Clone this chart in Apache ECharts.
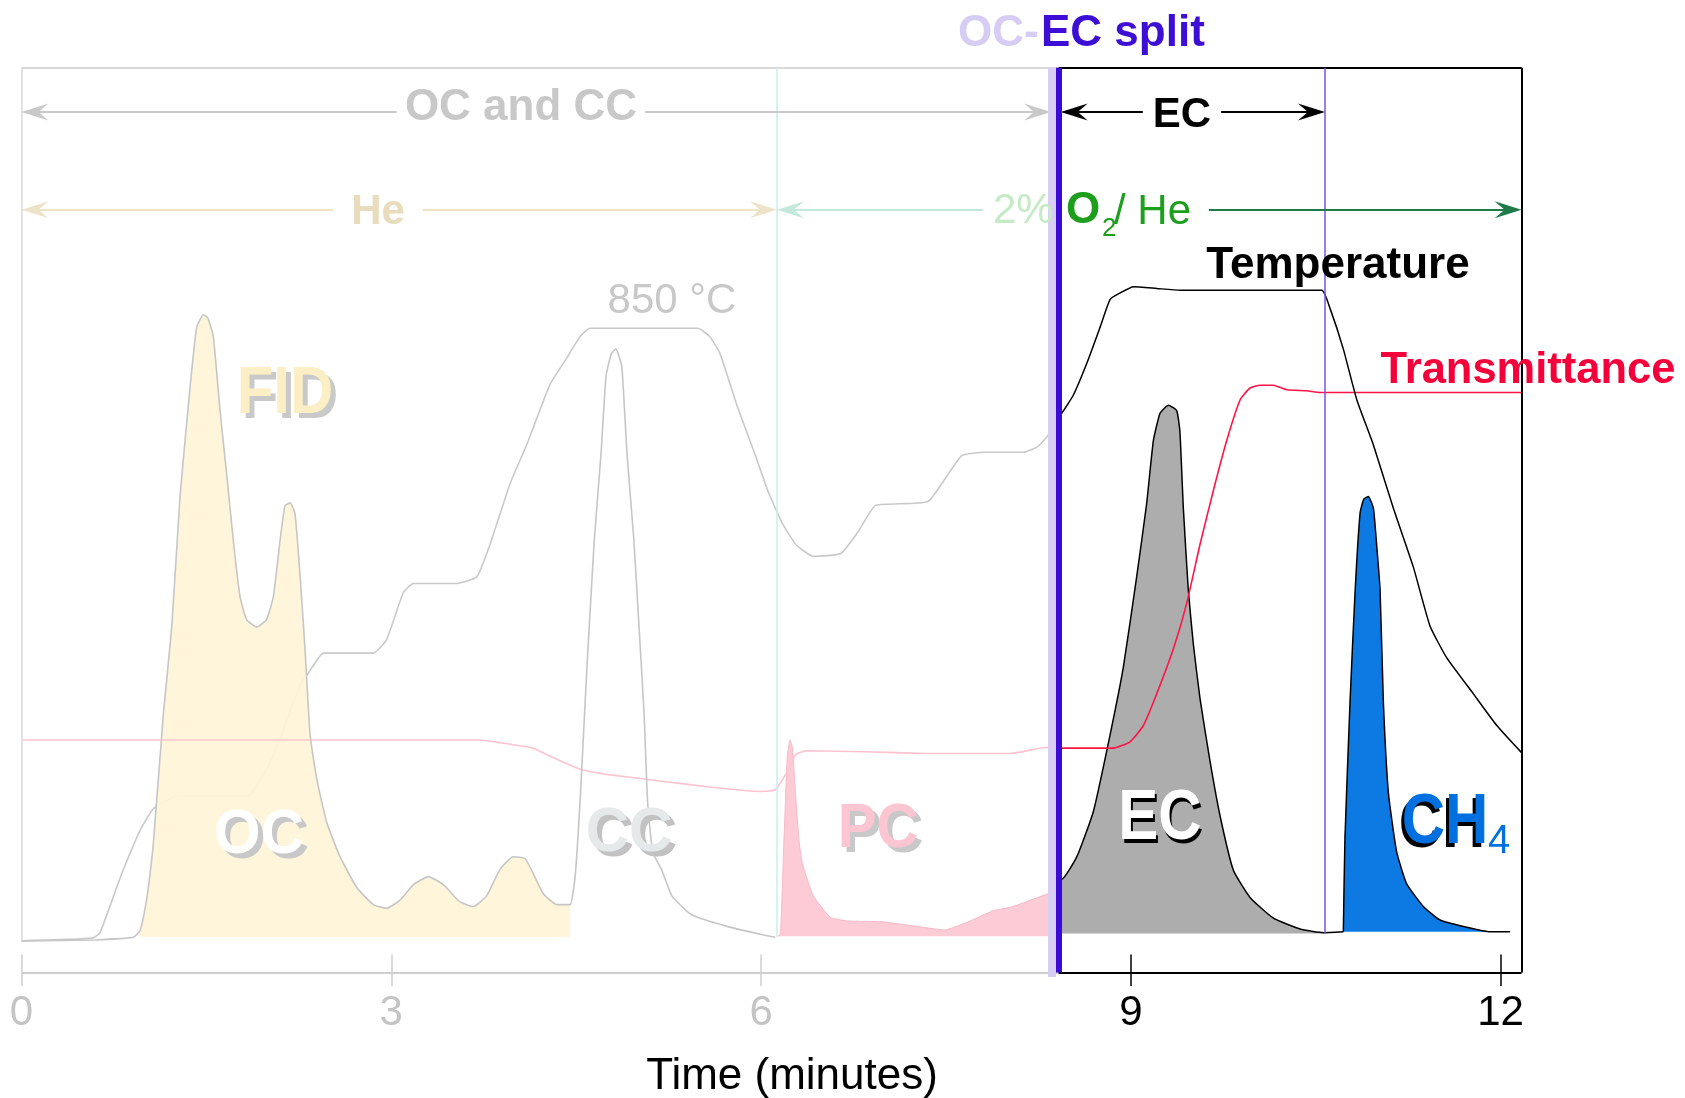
<!DOCTYPE html>
<html>
<head>
<meta charset="utf-8">
<title>OC-EC thermogram</title>
<script src="https://cdn.jsdelivr.net/npm/echarts@6/dist/echarts.min.js"></script>
<style>
  html, body { margin: 0; padding: 0; background: #fff; }
  #chart { width: 1685px; height: 1098px; }
</style>
</head>
<body>
<div id="chart"></div>
<script>
// x = time (minutes), y = relative signal (arbitrary units, 0-100)
const tickLabels = [0, 3, 6, 9, 12];

// event times
const GAS_SWITCH_T = 6.129;  // He -> 2% O2/He
const SPLIT_T = 8.413;       // OC-EC split
const EC_END_T = 10.575;
const RUN_END_T = 12.17;

// FID signal, OC and CC part (grey outline)
const fidTime = [0, 0.60, 0.907, 0.960, 0.995, 1.029, 1.070, 1.151, 1.219, 1.286, 1.367, 1.421, 1.475, 1.513,
  1.556, 1.610, 1.665, 1.718, 1.772, 1.826, 1.908, 1.988, 2.044, 2.098, 2.138, 2.180, 2.219, 2.260, 2.300,
  2.341, 2.395, 2.476, 2.584, 2.720, 2.854, 2.962, 3.071, 3.180, 3.301, 3.423, 3.557, 3.666, 3.775, 3.882,
  3.990, 4.085, 4.153, 4.234, 4.342, 4.450, 4.490, 4.532, 4.586, 4.647, 4.702, 4.743, 4.786, 4.822, 4.870,
  4.912, 4.968, 5.010, 5.051, 5.079, 5.121, 5.192, 5.275, 5.414, 5.527, 5.723, 6.003, 6.115];
const fidSignal = [3.5, 3.6, 3.9, 4.6, 6.5, 9.4, 14.3, 28.6, 38.2, 52.6, 64.6, 71.3, 72.7, 72.3,
  70.3, 62.2, 55.0, 47.8, 41.6, 39.0, 38.2, 39.0, 41.6, 47.8, 51.6, 51.9, 50.7, 43.9, 35.8,
  26.3, 21.4, 16.6, 12.8, 9.4, 7.5, 7.1, 8.0, 9.7, 10.6, 9.7, 7.8, 7.3, 8.5, 11.4,
  12.8, 12.6, 10.9, 8.7, 7.5, 7.5, 10.4, 19.0, 33.4, 47.8, 57.4, 66.0, 68.4, 68.9, 67.0,
  57.4, 47.8, 38.2, 28.6, 19.0, 13.3, 11.4, 8.5, 6.6, 5.9, 5.1, 4.2, 3.9];
const ocFillRange = [0.96, 4.45];

// pyrolysed carbon
const pcTime = [6.129, 6.157, 6.185, 6.213, 6.235, 6.255, 6.283, 6.310, 6.338, 6.423, 6.562, 6.703, 6.983,
  7.262, 7.486, 7.681, 7.877, 8.045, 8.325, 8.352];
const pcSignal = [4.0, 4.2, 14.3, 23.9, 25.7, 24.8, 19.0, 14.3, 11.9, 8.5, 6.1, 5.7, 5.6,
  5.1, 4.7, 5.6, 6.8, 7.3, 8.7, 8.9];

// elemental carbon
const ecTime = [8.413, 8.439, 8.562, 8.696, 8.832, 8.940, 9.048, 9.128, 9.183, 9.237, 9.304, 9.372, 9.398,
  9.426, 9.466, 9.507, 9.561, 9.643, 9.724, 9.832, 9.967, 10.157, 10.373, 10.562, 10.724];
const ecSignal = [10.3, 10.3, 12.8, 17.8, 26.3, 33.8, 43.8, 51.8, 58.8, 61.8, 62.7, 62.1, 59.8,
  51.3, 42.3, 36.3, 30.3, 23.3, 17.3, 11.3, 8.3, 6.0, 4.8, 4.4, 4.5];

// methane calibration peak
const chTime = [10.724, 10.737, 10.778, 10.820, 10.860, 10.889, 10.927, 10.968, 10.994, 11.022, 11.049,
  11.090, 11.157, 11.238, 11.373, 11.508, 11.725, 11.915, 12.077];
const chSignal = [4.5, 14.8, 29.8, 42.3, 50.8, 52.3, 52.6, 51.3, 47.3, 42.3, 29.8,
  19.8, 13.3, 9.8, 7.3, 5.8, 5.0, 4.5, 4.5];

// oven temperature
const tempTimeOC = [0, 0.575, 0.637, 0.799, 0.962, 1.070, 1.264, 1.831, 2.040, 2.267, 2.328, 2.450, 2.854,
  2.962, 3.098, 3.180, 3.531, 3.693, 3.801, 3.963, 4.098, 4.288, 4.423, 4.532, 4.612, 5.486, 5.583, 5.667,
  5.806, 5.947, 6.059, 6.171, 6.282, 6.423, 6.646, 6.786, 6.926, 7.122, 7.360, 7.626, 7.820, 8.129, 8.241,
  8.325, 8.370];
const tempOC = [3.5, 3.8, 4.4, 10.4, 15.7, 18.1, 19.5, 19.5, 23.9, 32.0, 33.1, 35.3, 35.3,
  36.8, 42.0, 43.0, 43.0, 43.7, 47.3, 54.0, 58.3, 65.0, 67.9, 70.3, 71.2, 71.2, 70.3, 68.4,
  62.6, 57.4, 53.1, 49.7, 47.3, 46.0, 46.3, 48.7, 51.6, 51.8, 52.1, 57.1, 57.5, 57.5, 58.1,
  59.3, 60.2];
const tempTimeEC = [8.413, 8.439, 8.533, 8.642, 8.750, 8.832, 8.913, 9.021, 9.210, 9.398, 9.887, 10.549,
  10.616, 10.724, 10.833, 10.968, 11.130, 11.292, 11.427, 11.562, 11.779, 11.969, 12.17];
const tempEC = [61.6, 61.8, 63.8, 67.3, 71.3, 74.4, 75.1, 75.8, 75.6, 75.4, 75.4, 75.4,
  73.4, 68.9, 63.3, 58.3, 51.3, 44.8, 38.3, 34.8, 30.8, 27.3, 24.3];

// laser transmittance
const transTimeOC = [0, 3.720, 3.880, 4.150, 4.211, 4.368, 4.548, 4.743, 5.161, 5.583, 6.003, 6.115, 6.199,
  6.282, 6.367, 6.842, 7.402, 8.017, 8.325, 8.370];
const transOC = [25.7, 25.7, 25.4, 24.8, 24.4, 23.4, 22.4, 21.9, 21.2, 20.5, 20.0, 20.2, 21.9,
  24.1, 24.5, 24.4, 24.2, 24.2, 24.9, 24.9];
const transTimeEC = [8.413, 8.858, 8.994, 9.102, 9.210, 9.346, 9.453, 9.561, 9.670, 9.778, 9.887, 9.967,
  10.048, 10.157, 10.264, 10.427, 10.535, 12.17];
const transEC = [24.8, 24.8, 25.5, 27.3, 30.8, 35.8, 40.8, 47.3, 53.3, 58.8, 63.3, 64.6,
  64.9, 64.9, 64.4, 64.3, 64.1, 64.1];

const FONT = '"Liberation Sans", Arial, Helvetica, sans-serif';
const pairs = (ts, vs) => ts.map((t, i) => [t, vs[i]]);
const fidData = pairs(fidTime, fidSignal);
const ocData = fidData.filter(p => p[0] >= ocFillRange[0] && p[0] <= ocFillRange[1]);

function line(name, data, color, width, z, extra) {
  return Object.assign({
    name, type: 'line', data, z, silent: true,
    symbol: 'none', showSymbol: false, smooth: 0.15,
    lineStyle: { color, width }
  }, extra || {});
}
function area(name, data, fill, base, lineColor, lineWidth, z, opacity) {
  return line(name, data, lineColor, lineWidth, z, {
    areaStyle: { color: fill, opacity: opacity || 0.95, origin: base }
  });
}

// helper lines: frame, ticks, event markers, arrows
const head = 'path://M8.5,0L17,27L8.5,17L0,27Z';
const HEAD_SIZE = [17, 27];
const HEAD_INSET = 13.5 / 123.26; // half a head, in minutes
const seg = (a, b, color, width) => [
  { coord: a, lineStyle: { color, width, type: 'solid' } },
  { coord: b }
];
const arrow = (t1, t2, v, color, h1, h2) => [
  {
    coord: [h1 ? t1 + HEAD_INSET : t1, v], symbol: h1 ? head : 'none', symbolSize: HEAD_SIZE,
    lineStyle: { color, width: 2, type: 'solid' }
  },
  { coord: [h2 ? t2 - HEAD_INSET : t2, v], symbol: h2 ? head : 'none', symbolSize: HEAD_SIZE }
];
const guideLines = [
  seg([0, 100], [SPLIT_T, 100], '#d9d9d9', 2),
  seg([SPLIT_T, 100], [RUN_END_T, 100], '#000', 2),
  seg([0, 100], [0, 3.5], '#d9d9d9', 1.5),
  seg([RUN_END_T, 100], [RUN_END_T, 0], '#000', 2),
  seg([0, 0], [SPLIT_T, 0], '#cfcfcf', 2),
  seg([SPLIT_T, 0], [RUN_END_T, 0], '#000', 2),
  ...tickLabels.map(t => seg([t, 2.0], [t, -1.5], t < SPLIT_T ? '#cfcfcf' : '#000', 1.5)),
  seg([GAS_SWITCH_T, 100], [GAS_SWITCH_T, 4], '#c9eff0', 1.5),
  seg([EC_END_T, 100], [EC_END_T, 4.3], '#7a52e6', 1.5),
  arrow(0, 8.352, 95.1, '#c9c9c9', true, true),
  arrow(8.431, EC_END_T, 95.1, '#000', true, true),
  arrow(0, GAS_SWITCH_T, 84.3, '#ece3c8', true, true),
  arrow(GAS_SWITCH_T, 7.803, 84.3, '#c4e8da', true, false),
  arrow(9.634, RUN_END_T, 84.3, '#1f7a4a', false, true),
  seg([8.357, 100], [8.357, -0.5], '#d7cdf5', 8),
  seg([SPLIT_T, 100], [SPLIT_T, 0], '#3b0bd5', 6)
];

function txt(text, x, y, size, color, opts) {
  opts = opts || {};
  return {
    type: 'text', x, y, z: opts.z || 20, scaleY: opts.scaleY || 1, silent: true,
    style: Object.assign({
      text, fill: color,
      font: (opts.weight || 'bold') + ' ' + size + 'px ' + FONT,
      textAlign: opts.align || 'center', textVerticalAlign: 'middle'
    }, opts.style || {})
  };
}
function shadowed(text, x, y, size, front, back, dx, dy, scaleY) {
  return [
    txt(text, x + dx, y + dy, size, back, { scaleY, z: 20 }),
    txt(text, x, y, size, front, { scaleY, z: 21 })
  ];
}

const chart = echarts.init(document.getElementById('chart'));
const option = {
  animation: false,
  backgroundColor: '#fff',
  grid: { left: 21.5, right: 147.4, top: 31.5, bottom: 107.4 },
  xAxis: {
    type: 'value', min: 0, max: 12.3, interval: 3,
    axisLine: { show: false }, axisTick: { show: false }, splitLine: { show: false },
    axisLabel: {
      customValues: tickLabels,
      margin: 2,
      fontFamily: FONT, fontSize: 42,
      color: v => (v < SPLIT_T ? '#c4c4c4' : '#000'),
      formatter: v => (tickLabels.includes(v) ? String(v) : '')
    }
  },
  yAxis: { type: 'value', min: -2, max: 104, show: false, splitLine: { show: false } },
  series: [
    line('Temperature (OC)', pairs(tempTimeOC, tempOC), '#c9c9c9', 1.6, 1),
    area('OC', ocData, '#fef4d8', 3.93, '#fef4d8', 0, 2, 0.93),
    area('PC', pairs(pcTime, pcSignal), '#fcc8d4', 4.0, '#f7bac8', 1, 2),
    area('EC', pairs(ecTime, ecSignal), '#a9a9a9', 4.3, '#000', 1.5, 2),
    area('CH4', pairs(chTime, chSignal), '#0073e3', 4.5, '#000', 1.5, 2),
    line('Transmittance (OC)', pairs(transTimeOC, transOC), '#ffc3cf', 1.6, 3),
    line('Transmittance (EC)', pairs(transTimeEC, transEC), '#ff1446', 1.6, 3),
    line('FID', fidData, '#c6c6c6', 1.6, 4),
    line('Temperature (EC)', pairs(tempTimeEC, tempEC), '#000', 1.5, 3),
    {
      name: 'guides', type: 'line', data: [], z: 5, silent: true, clip: false,
      markLine: {
        silent: true, animation: false, symbol: 'none',
        label: { show: false }, emphasis: { disabled: true },
        data: guideLines
      }
    }
  ],
  graphic: [
    txt('OC-', 958, 34, 44, '#d6ccf4', { align: 'left' }),
    txt('EC split', 1041, 34, 44, '#3d0fd6', { align: 'left' }),
    txt('OC and CC', 521, 108, 44, '#c8c8c8', { style: { backgroundColor: '#fff', padding: [2, 8] } }),
    txt('EC', 1182, 115, 42, '#000', { style: { backgroundColor: '#fff', padding: [2, 10] } }),
    txt('He', 378, 212, 42, '#e8dcbc', { style: { backgroundColor: '#fff', padding: [2, 18] } }),
    txt('2%', 993, 211, 42, '#c6eac6', { align: 'left', weight: 'normal' }),
    txt('O', 1066, 211, 44, '#1d9e1d', { align: 'left' }),
    txt('2', 1102, 229, 26, '#1d9e1d', { align: 'left', weight: 'normal' }),
    txt('/ He', 1114, 212, 42, '#1d9e1d', { align: 'left', weight: 'normal' }),
    txt('850 °C', 672, 301, 42, '#c8c8c8', { weight: 'normal' }),
    txt('Temperature', 1338, 266, 44, '#000'),
    txt('Transmittance', 1528, 371, 43.5, '#f5003a'),
    ...shadowed('FID', 285, 395, 60, '#fcefc6', '#c9c9c9', 5, 5, 1.1),
    ...shadowed('OC', 259, 836, 60, '#ffffff', '#c8c8c8', 5, 5, 1.05),
    ...shadowed('CC', 629, 834, 60, '#e6e9ea', '#c2c2c2', 5, 5, 1.05),
    ...shadowed('PC', 878, 829, 58, '#fbc6d2', '#c8c8c8', 5, 5, 1.1),
    ...shadowed('EC', 1160, 820, 60, '#ffffff', '#000000', 2, 4, 1.17),
    ...shadowed('CH', 1445, 824, 60, '#0070e0', '#000000', -3, 4, 1.17),
    txt('4', 1499, 842, 40, '#0070e0', { weight: 'normal' }),
    txt('Time (minutes)', 792, 1077, 44, '#000', { weight: 'normal' })
  ]
};
chart.setOption(option);
</script>
</body>
</html>
